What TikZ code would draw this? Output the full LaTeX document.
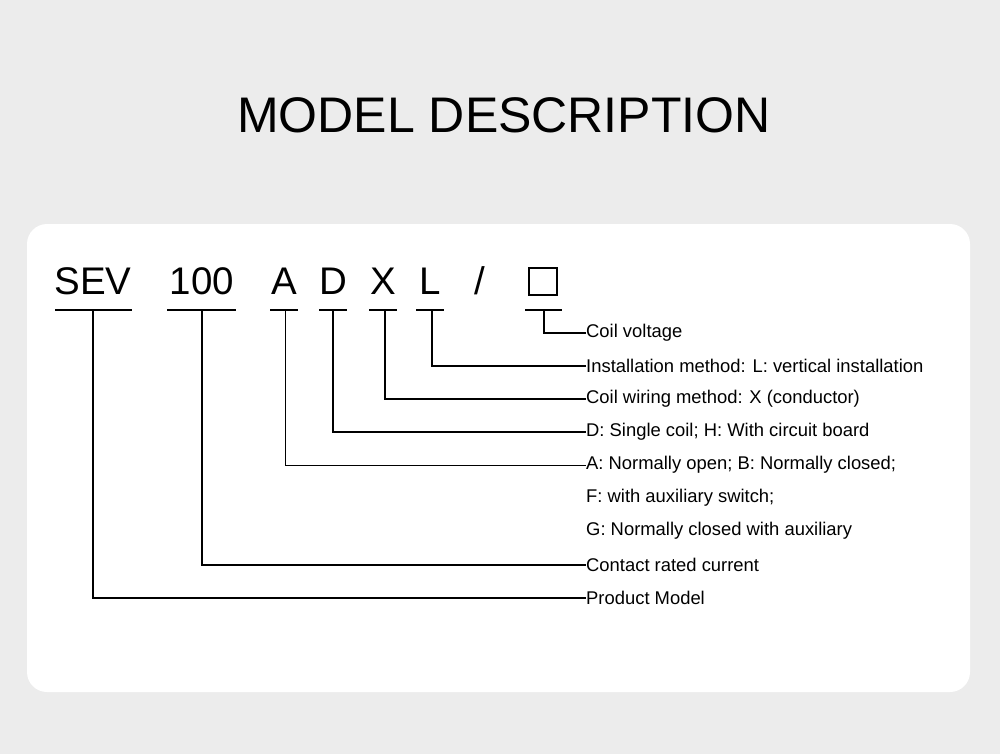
\documentclass[tikz,border=0pt]{standalone}
\usepackage{fontspec}
\setmainfont{Liberation Sans}
\definecolor{bg}{HTML}{ECECEC}
\begin{document}
\begin{tikzpicture}[x=1pt,y=-1pt,
  code/.style={font=\fontsize{38.5}{40}\selectfont,anchor=base,inner sep=0},
  lab/.style={font=\fontsize{18.4}{20}\selectfont,anchor=west,inner sep=0},
  ln/.style={line width=2.3pt},
  ul/.style={line width=2pt}]
\fill[bg] (0,0) rectangle (1000,754);
\useasboundingbox (0,0) rectangle (1000,754);
\fill[white,rounded corners=20] (27,224) rectangle (970,692);
\node[font=\fontsize{50}{50}\selectfont,anchor=base,inner sep=0] (title) at (504,133) {MODEL DESCRIPTION};
\node[code] (sev) at (93,294) {SEV};
\node[code] (hun) at (202,294) {100};
\node[code] (a) at (284,294) {A};
\node[code] (d) at (333,294) {D};
\node[code] (x) at (383,294) {X};
\node[code] (l) at (430,294) {L};
\node[code] (sl) at (480,294) {/};
\node[draw,line width=1.3pt,minimum width=28,minimum height=27,inner sep=0] (box) at (543,281.5) {};
\draw[ul] (55,310) -- (132,310);
\draw[ul] (167,310) -- (236,310);
\draw[ul] (270,310) -- (298,310);
\draw[ul] (319,310) -- (347,310);
\draw[ul] (369,310) -- (397,310);
\draw[ul] (416,310) -- (444,310);
\draw[ul] (525,310) -- (562,310);
\node[lab] (t1) at (586,333) {Coil voltage};
\node[lab] (t2) at (586,366) {Installation method: L: vertical installation};
\node[lab] (t3) at (586,399) {Coil wiring method: X (conductor)};
\node[lab] (t4) at (586,432) {D: Single coil; H: With circuit board};
\node[lab] (t5) at (586,465) {A: Normally open; B: Normally closed;};
\node[lab] (t6) at (586,498) {F: with auxiliary switch;};
\node[lab] (t7) at (586,531) {G: Normally closed with auxiliary};
\node[lab] (t8) at (586,565) {Contact rated current};
\node[lab] (t9) at (586,598) {Product Model};
\draw[ln] (544,310) |- (t1.west);
\draw[ln] (432,310) |- (t2.west);
\draw[ln] (385,310) |- (t3.west);
\draw[ln] (333,310) |- (t4.west);
\draw[line width=1pt] (285,310) |- (t5.west);
\draw[ln] (202,310) |- (t8.west);
\draw[ln] (93,310) |- (t9.west);
\end{tikzpicture}
\end{document}
